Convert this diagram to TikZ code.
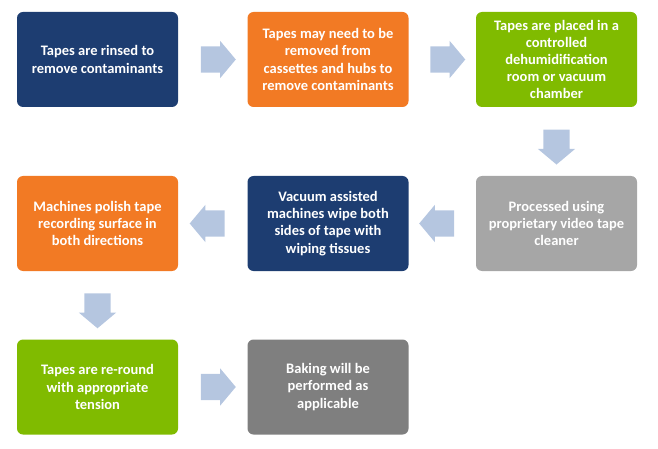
\documentclass[tikz,border=0pt]{standalone}
\usepackage{fontspec}
\setmainfont{Carlito}
\usetikzlibrary{shapes.arrows,calc}
\definecolor{dblue}{HTML}{1D3D71}
\definecolor{orng}{HTML}{F27A24}
\definecolor{grn}{HTML}{80BB00}
\definecolor{lgray}{HTML}{A6A6A6}
\definecolor{dgray}{HTML}{7F7F7F}
\definecolor{arrc}{HTML}{B5C6E0}
\tikzset{
  stepbox/.style={rounded corners=6pt, minimum width=161pt, minimum height=95pt,
    text=white, font=\bfseries\fontsize{14.5}{17.2}\selectfont, align=center, inner sep=2pt},
  bigarrow/.style={single arrow, fill=arrc, draw=none, minimum height=35pt,
    inner xsep=0pt, inner ysep=13pt, single arrow head extend=5.5pt,
    single arrow tip angle=100}
}
\begin{document}
\begin{tikzpicture}[x=1pt,y=-1pt]
\useasboundingbox (0,0) rectangle (658,449);
\node[stepbox, fill=dblue] (b1) at (97.5,59.5) {Tapes are rinsed to\\remove contaminants};
\node[stepbox, fill=orng] (b2) at (328,59.5) {Tapes may need to be\\removed from\\cassettes and hubs to\\remove contaminants};
\node[stepbox, fill=grn] (b3) at (556.5,59.5) {Tapes are placed in a\\controlled\\dehumidification\\room or vacuum\\chamber};
\node[stepbox, fill=lgray] (b4) at (556.5,223.5) {Processed using\\proprietary video tape\\cleaner};
\node[stepbox, fill=dblue] (b5) at (328,223.5) {Vacuum assisted\\machines wipe both\\sides of tape with\\wiping tissues};
\node[stepbox, fill=orng] (b6) at (97.5,223.5) {Machines polish tape\\recording surface in\\both directions};
\node[stepbox, fill=grn] (b7) at (97.5,387) {Tapes are re-round\\with appropriate\\tension};
\node[stepbox, fill=dgray] (b8) at (328,387) {Baking will be\\performed as\\applicable};
\node[bigarrow] (a1) at ($(b1.east)!0.5!(b2.west)$) {};
\node[bigarrow] (a2) at ($(b2.east)!0.5!(b3.west)$) {};
\node[bigarrow, rotate=-90] (a3) at ($(b3.south)!0.5!(b4.north)$) {};
\node[bigarrow, rotate=180] (a4) at ($(b4.west)!0.5!(b5.east)$) {};
\node[bigarrow, rotate=180] (a5) at ($(b5.west)!0.5!(b6.east)$) {};
\node[bigarrow, rotate=-90] (a6) at ($(b6.south)!0.5!(b7.north)$) {};
\node[bigarrow] (a7) at ($(b7.east)!0.5!(b8.west)$) {};
\end{tikzpicture}
\end{document}
